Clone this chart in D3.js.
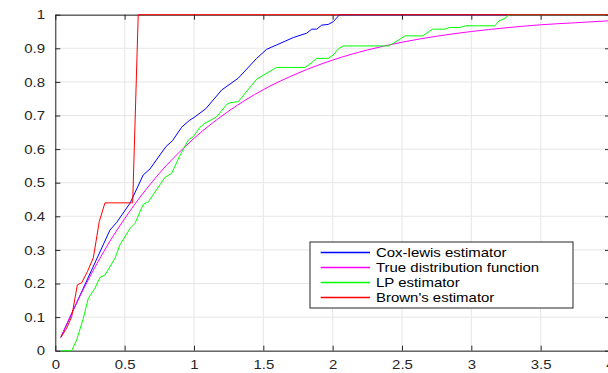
<!DOCTYPE html>
<html>
<head>
<meta charset="utf-8">
<script src="https://cdn.jsdelivr.net/npm/d3@7"></script>
<style>
  html, body { margin: 0; padding: 0; background: #fff; }
  svg { display: block; }
  text { font-family: "Liberation Sans", Arial, sans-serif; }
</style>
</head>
<body>
<svg id="chart" width="608" height="373"></svg>
<script>
// ---- data ----
const xTicks = [0, 0.5, 1, 1.5, 2, 2.5, 3, 3.5, 4];
const xTickLabels = ["0", "0.5", "1", "1.5", "2", "2.5", "3", "3.5", "4"];
const yTicks = [0, 0.1, 0.2, 0.3, 0.4, 0.5, 0.6, 0.7, 0.8, 0.9, 1];
const yTickLabels = ["0", "0.1", "0.2", "0.3", "0.4", "0.5", "0.6", "0.7", "0.8", "0.9", "1"];

const seriesNames = ["Cox-lewis estimator", "True distribution function", "LP estimator", "Brown's estimator"];
const seriesColors = ["#0000ff", "#ff00ff", "#00ff00", "#ff0000"];

const coxX = [0.04, 0.262, 0.394, 0.443, 0.539, 0.634, 0.683, 0.797, 0.845, 0.911, 0.966, 1.0, 1.085, 1.2, 1.319, 1.452, 1.524, 1.596, 1.716, 1.813, 1.849, 1.885, 1.921, 1.968, 2.004, 2.05, 4];
const coxY = [0.04, 0.240, 0.359, 0.382, 0.439, 0.523, 0.541, 0.607, 0.625, 0.665, 0.685, 0.694, 0.720, 0.776, 0.811, 0.870, 0.897, 0.910, 0.932, 0.945, 0.957, 0.957, 0.969, 0.971, 0.979, 1.0, 1.0];

const trueX = [0.04, 0.1, 0.2, 0.3, 0.4, 0.5, 0.6, 0.7, 0.8, 0.9, 1.0, 1.25, 1.5, 1.75, 2.0, 2.25, 2.5, 2.75, 3.0, 3.25, 3.5, 3.75, 4.0];
const trueY = [0.039, 0.095, 0.181, 0.259, 0.330, 0.393, 0.451, 0.503, 0.551, 0.593, 0.632, 0.713, 0.777, 0.826, 0.865, 0.895, 0.918, 0.936, 0.950, 0.961, 0.970, 0.976, 0.982];

const lpX = [0.04, 0.118, 0.154, 0.202, 0.238, 0.286, 0.322, 0.358, 0.43, 0.466, 0.539, 0.575, 0.634, 0.671, 0.791, 0.839, 0.894, 0.959, 0.995, 1.043, 1.079, 1.164, 1.236, 1.26, 1.319, 1.452, 1.5, 1.596, 1.8, 1.836, 1.885, 1.968, 2.004, 2.04, 2.076, 2.401, 2.437, 2.485, 2.521, 2.649, 2.721, 2.81, 2.841, 2.918, 2.961, 3.17, 3.201, 3.242, 3.273, 4];
const lpY = [0, 0, 0.032, 0.096, 0.156, 0.186, 0.218, 0.225, 0.275, 0.315, 0.364, 0.379, 0.436, 0.443, 0.516, 0.528, 0.577, 0.627, 0.637, 0.665, 0.677, 0.696, 0.733, 0.738, 0.741, 0.808, 0.820, 0.843, 0.843, 0.853, 0.870, 0.870, 0.880, 0.898, 0.907, 0.907, 0.915, 0.927, 0.937, 0.937, 0.957, 0.957, 0.962, 0.962, 0.967, 0.967, 0.982, 0.989, 1.0, 1.0];

const brownX = [0.04, 0.082, 0.118, 0.159, 0.19, 0.231, 0.274, 0.317, 0.358, 0.558, 0.598, 4];
const brownY = [0.04, 0.067, 0.101, 0.196, 0.202, 0.235, 0.276, 0.384, 0.44, 0.44, 1.0, 1.0];

// ---- layout ----
const svg = d3.select("#chart");
const padL = 55.3, padR = 610, padT = 14.7, padB = 350.7;
const x = d3.scaleLinear().domain([0, 4]).range([padL, padR]);
const y = d3.scaleLinear().domain([0, 1]).range([padB, padT]);
const axisColor = "#262626";
const gridColor = "#e6e6e6";
const textStretch = 1.15;

// grid
const grid = svg.append("g");
grid.selectAll("line.vx").data(xTicks).join("line")
  .attr("x1", d => x(d)).attr("x2", d => x(d))
  .attr("y1", padT).attr("y2", padB)
  .attr("stroke", gridColor).attr("stroke-width", 1);
grid.selectAll("line.hy").data(yTicks).join("line")
  .attr("x1", padL).attr("x2", padR)
  .attr("y1", d => y(d)).attr("y2", d => y(d))
  .attr("stroke", gridColor).attr("stroke-width", 1);

// axes
function styleAxis(g) {
  g.select(".domain").attr("stroke", axisColor);
  g.selectAll(".tick line").attr("stroke", axisColor);
  g.selectAll(".tick text").attr("fill", axisColor).style("font-size", "13px")
    .style("font-family", "'Liberation Sans', Arial, sans-serif");
}
const xFmt = (d, i) => xTickLabels[i];
const yFmt = (d, i) => yTickLabels[i];

svg.append("g").attr("transform", `translate(0,${padB})`)
  .call(d3.axisBottom(x).tickValues(xTicks).tickFormat(xFmt).tickSize(-5).tickSizeOuter(0).tickPadding(9.5))
  .call(styleAxis);
svg.append("g").attr("transform", `translate(0,${padT})`)
  .call(d3.axisTop(x).tickValues(xTicks).tickFormat("").tickSize(-5).tickSizeOuter(0))
  .call(styleAxis);
svg.append("g").attr("transform", `translate(${padL},0)`)
  .call(d3.axisLeft(y).tickValues(yTicks).tickFormat(yFmt).tickSize(-5).tickSizeOuter(0).tickPadding(10.3))
  .call(styleAxis);
svg.append("g").attr("transform", `translate(${padR},0)`)
  .call(d3.axisRight(y).tickValues(yTicks).tickFormat("").tickSize(-5).tickSizeOuter(0))
  .call(styleAxis);

// lines
const seriesX = [coxX, trueX, lpX, brownX];
const seriesY = [coxY, trueY, lpY, brownY];
const curves = [d3.curveLinear, d3.curveMonotoneX, d3.curveLinear, d3.curveLinear];
seriesX.forEach((xs, s) => {
  const pts = xs.map((v, i) => [v, seriesY[s][i]]);
  const line = d3.line().x(d => x(d[0])).y(d => y(d[1])).curve(curves[s]);
  svg.append("path").datum(pts)
    .attr("d", line)
    .attr("fill", "none")
    .attr("stroke", seriesColors[s])
    .attr("stroke-width", 1);
});

// legend
const lg = svg.append("g").attr("transform", "translate(310,242)");
lg.append("rect").attr("x", 0).attr("y", 0).attr("width", 263).attr("height", 66)
  .attr("fill", "#fff").attr("stroke", axisColor).attr("stroke-width", 1);
seriesNames.forEach((name, i) => {
  const yy = 10.5 + i * 15;
  lg.append("line").attr("x1", 10.7).attr("x2", 60).attr("y1", yy).attr("y2", yy)
    .attr("stroke", seriesColors[i]).attr("stroke-width", 1.3);
  lg.append("text").attr("x", 66).attr("y", yy).attr("dy", "0.35em")
    .attr("fill", "#000").style("font-size", "13px").text(name);
});

// the reference's lettering is horizontally wider than Liberation Sans
svg.selectAll("text").each(function () {
  const w = this.getComputedTextLength();
  if (w > 0) {
    d3.select(this).attr("textLength", w * textStretch).attr("lengthAdjust", "spacingAndGlyphs");
  }
});
</script>
</body>
</html>
